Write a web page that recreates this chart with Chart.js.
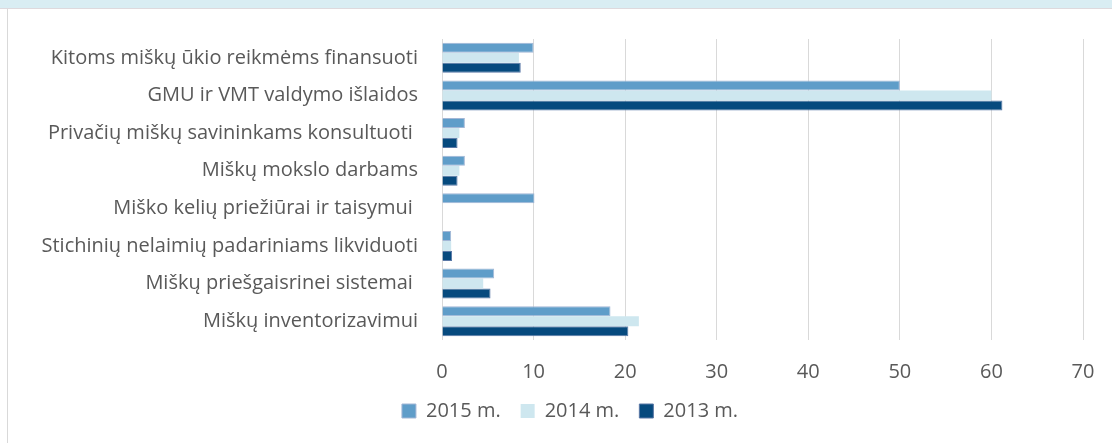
<!DOCTYPE html>
<html>
<head>
<meta charset="utf-8">
<script src="https://cdn.jsdelivr.net/npm/chart.js@4.4.1/dist/chart.umd.min.js"></script>
<style>
    html, body {
        margin: 0;
        padding: 0;
        background: #ffffff;
        overflow: hidden;
        width: 1112px;
        height: 443px;
    }
    #topBand {
        position: absolute;
        left: 0;
        top: 0;
        width: 1112px;
        height: 8px;
        background: #d9edf3;
        border-bottom: 1px solid #ded9dd;
    }
    #frame {
        position: absolute;
        left: 7px;
        top: 9px;
        width: 1px;
        height: 434px;
        background: #d9d9d9;
    }
    #wrap {
        position: absolute;
        left: 8px;
        top: 9px;
        width: 1124px;
        height: 434px;
    }
</style>
</head>
<body>
<div id="topBand"></div>
<div id="frame"></div>
<div id="wrap"><canvas id="chart"></canvas></div>
<script>
const categories = [
    "Kitoms miškų ūkio reikmėms finansuoti",
    "GMU ir VMT valdymo išlaidos",
    "Privačių miškų savininkams konsultuoti ",
    "Miškų mokslo darbams",
    "Miško kelių priežiūrai ir taisymui ",
    "Stichinių nelaimių padariniams likviduoti",
    "Miškų priešgaisrinei sistemai ",
    "Miškų inventorizavimui",
];

const seriesNames = ["2015 m.", "2014 m.", "2013 m."];

const values2015 = [10, 50, 2.5, 2.5, 10.1, 1.0, 5.7, 18.4];
const values2014 = [8.4, 60, 1.9, 1.9, 0, 1.0, 4.5, 21.5];
const values2013 = [8.6, 61.2, 1.7, 1.7, 0, 1.1, 5.3, 20.35];

const xTicks = [0, 10, 20, 30, 40, 50, 60, 70];

const fontFamily = "'Open Sans', 'Noto Sans', sans-serif";
const textColor = "#595959";
const fontSize = 20;

// fixed sizes for the axes so the plot sits where the original does
const yAxisWidth = 434;
const xAxisHeight = 41;

// legend in the original is centred on the whole frame, not on the padded box
const legendShift = {
    id: "legendShift",
    afterLayout(chart) {
        const legend = chart.legend;
        if (!legend) return;
        legend.left += 24.5;
        legend.right += 24.5;
    },
};

const ctx = document.getElementById("chart");

new Chart(ctx, {
    type: "bar",
    data: {
        labels: categories,
        datasets: [
            {
                label: seriesNames[0],
                data: values2015,
                backgroundColor: "#5f9dc9",
                borderColor: "#a3b7d6",
                borderWidth: 1,
            },
            {
                label: seriesNames[1],
                data: values2014,
                backgroundColor: "#cee7ef",
                borderColor: "#cee7ef",
                borderWidth: 0,
            },
            {
                label: seriesNames[2],
                data: values2013,
                backgroundColor: "#064a7e",
                borderColor: "#5a78a6",
                borderWidth: 1,
            },
        ],
    },
    options: {
        indexAxis: "y",
        responsive: true,
        maintainAspectRatio: false,
        animation: false,
        datasets: {
            bar: {
                categoryPercentage: 0.8,
                barPercentage: 1.0,
            },
        },
        layout: {
            padding: { top: 30, right: 49, left: 0, bottom: 12 },
        },
        scales: {
            x: {
                min: 0,
                max: 70,
                afterBuildTicks: (scale) => {
                    scale.ticks = xTicks.map((v) => ({ value: v }));
                },
                afterFit: (scale) => {
                    scale.height = xAxisHeight;
                },
                grid: {
                    color: "#d9d9d9",
                    lineWidth: 1,
                    drawTicks: false,
                },
                border: { display: false },
                ticks: {
                    color: textColor,
                    padding: 20,
                    font: { family: fontFamily, size: fontSize },
                },
            },
            y: {
                afterFit: (scale) => {
                    scale.width = yAxisWidth;
                    // labels sit in the bands, no extra room needed above/below
                    scale.paddingTop = 0;
                    scale.paddingBottom = 0;
                },
                grid: { display: false, drawTicks: false },
                border: { display: false },
                ticks: {
                    color: textColor,
                    padding: 24,
                    font: { family: fontFamily, size: fontSize },
                },
            },
        },
        plugins: {
            legend: {
                position: "bottom",
                labels: {
                    color: textColor,
                    boxWidth: 14,
                    boxHeight: 14,
                    padding: 20,
                    font: { family: fontFamily, size: fontSize },
                },
            },
            tooltip: { enabled: false },
        },
    },
    plugins: [legendShift],
});
</script>
</body>
</html>
